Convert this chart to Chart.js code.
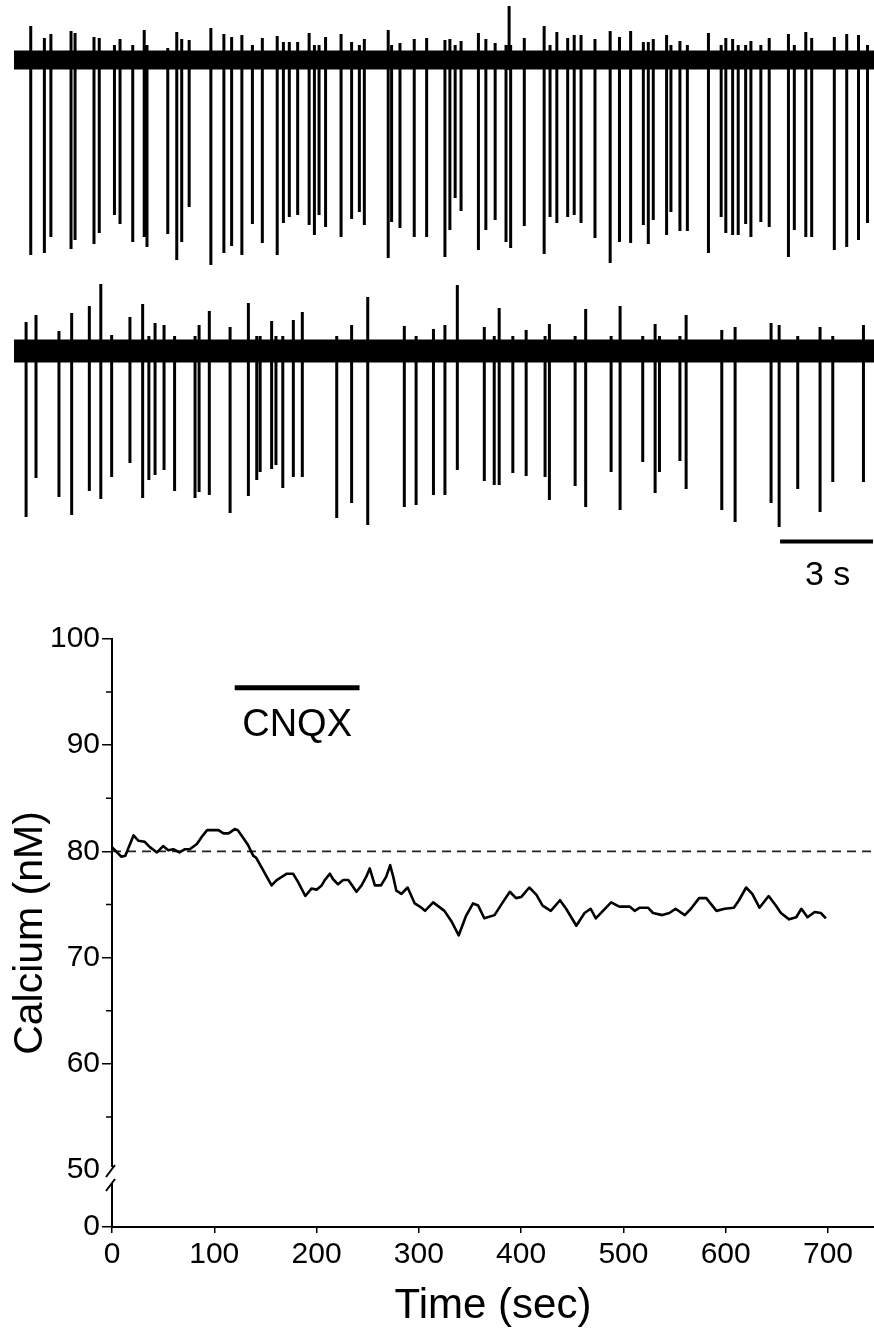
<!DOCTYPE html>
<html>
<head>
<meta charset="utf-8">
<script src="https://cdn.jsdelivr.net/npm/chart.js@4.4.1/dist/chart.umd.min.js"></script>
<style>
  html, body { margin: 0; padding: 0; background: #fff; }
  #wrap { position: relative; width: 874px; height: 1337px; }
  #traces { position: absolute; left: 0; top: 0; }
  #calcium { position: absolute; left: 0; top: 600px; }
</style>
</head>
<body>
<div id="wrap">
  <canvas id="traces" width="874" height="600"></canvas>
  <canvas id="calcium" width="874" height="737"></canvas>
</div>
<script>
// ---- top: two current traces (time in s, amplitude in arbitrary units, baseline = 0)
const traceDuration = 27.74;
const scaleBarSec = 3;

const trace1Times = [0.54, 0.98, 1.19, 1.84, 1.97, 2.58, 2.75, 3.24, 3.42, 3.83,
  4.20, 4.29, 4.96, 5.25, 5.41, 5.65, 6.35, 6.77, 7.02, 7.35,
  7.69, 8.01, 8.49, 8.69, 8.88, 9.15, 9.52, 9.69, 9.84, 10.05,
  10.55, 10.89, 11.14, 11.30, 12.07, 12.18, 12.45, 12.91, 13.31, 13.90,
  14.06, 14.23, 14.42, 14.98, 15.22, 15.52, 15.87, 15.97, 16.02, 16.46,
  17.10, 17.29, 17.51, 17.86, 18.07, 18.29, 18.74, 19.23, 19.53, 19.89,
  20.30, 20.46, 20.62, 21.05, 21.19, 21.48, 21.72, 22.40, 22.81, 22.96,
  23.18, 23.36, 23.60, 23.77, 24.09, 24.36, 24.98, 25.17, 25.54, 25.73,
  26.46, 26.86, 27.24, 27.53];
const trace1Down = [-195, -193, -177, -189, -180, -184, -173, -155, -164, -182,
  -177, -187, -174, -200, -182, -147, -205, -193, -186, -195,
  -164, -183, -195, -163, -157, -155, -165, -175, -155, -167,
  -177, -159, -152, -165, -198, -162, -168, -177, -177, -197,
  -170, -138, -151, -190, -170, -160, -182, -10, -188, -166,
  -194, -157, -163, -157, -155, -163, -178, -203, -182, -183,
  -165, -184, -160, -175, -152, -171, -171, -193, -157, -173,
  -175, -175, -164, -177, -162, -167, -197, -170, -177, -177,
  -190, -187, -180, -163];
const trace1Up = [34, 22, 26, 29, 27, 23, 22, 15, 21, 15,
  30, 15, 12, 28, 21, 20, 32, 26, 23, 25,
  15, 22, 24, 18, 18, 18, 27, 15, 15, 23,
  26, 18, 15, 21, 30, 15, 17, 21, 22, 20,
  21, 15, 19, 27, 21, 17, 15, 54, 15, 22,
  34, 15, 28, 22, 25, 25, 21, 29, 23, 29,
  18, 18, 21, 25, 15, 19, 15, 27, 15, 22,
  21, 15, 15, 19, 15, 22, 26, 15, 28, 22,
  23, 26, 25, 15];

const trace2Times = [0.39, 0.71, 1.45, 1.86, 2.43, 2.80, 3.15, 3.74, 4.15, 4.35,
  4.55, 4.84, 5.18, 5.84, 5.97, 6.30, 6.97, 7.56, 7.83, 7.94,
  8.31, 8.45, 8.67, 9.01, 9.30, 10.41, 10.89, 11.41, 12.59, 12.97,
  13.53, 13.90, 14.30, 15.17, 15.49, 15.65, 16.09, 16.52, 17.13, 17.27,
  18.10, 18.44, 19.26, 19.55, 20.28, 20.68, 20.82, 21.48, 21.68, 22.83,
  23.26, 24.42, 24.68, 25.28, 26.00, 26.41, 27.40];
const trace2Down = [-166, -127, -146, -164, -140, -148, -126, -112, -147, -129,
  -124, -119, -140, -147, -141, -144, -162, -145, -129, -121,
  -118, -114, -137, -126, -126, -167, -152, -174, -156, -154,
  -144, -144, -119, -130, -134, -134, -122, -125, -126, -149,
  -135, -156, -121, -159, -111, -142, -121, -110, -138, -159,
  -171, -152, -176, -138, -161, -131, -131];
const trace2Up = [29, 36, 20, 38, 45, 67, 16, 34, 47, 15,
  28, 26, 15, 15, 26, 40, 24, 48, 15, 15,
  30, 15, 15, 31, 39, 15, 26, 54, 25, 15,
  22, 26, 66, 24, 15, 43, 15, 21, 15, 27,
  15, 42, 15, 45, 15, 27, 15, 15, 36, 21,
  24, 28, 26, 15, 24, 15, 26];

// ---- bottom: calcium vs time
const calciumTime = [0, 9, 13, 21, 26, 32, 37, 44, 50, 55,
  60, 66, 71, 76, 83, 88, 93, 104, 109, 114,
  120, 123, 128, 133, 138, 141, 148, 156, 161, 166,
  171, 177, 182, 189, 195, 200, 205, 208, 213, 216,
  221, 226, 231, 234, 239, 244, 249, 252, 257, 263,
  268, 272, 275, 278, 283, 289, 296, 301, 306, 314,
  325, 332, 339, 346, 353, 358, 364, 374, 382, 389,
  395, 400, 408, 415, 421, 429, 438, 444, 454, 462,
  468, 473, 480, 488, 496, 506, 511, 516, 524, 529,
  538, 545, 551, 560, 566, 574, 581, 591, 599, 608,
  613, 620, 626, 633, 642, 649, 654, 662, 669, 674,
  680, 687, 693, 698];
const calciumNM = [80.4, 79.5, 79.6, 81.5, 81.0, 80.9, 80.4, 79.9, 80.5, 80.1,
  80.2, 79.9, 80.2, 80.2, 80.7, 81.4, 82.0, 82.0, 81.7, 81.7,
  82.1, 82.0, 81.3, 80.6, 79.6, 79.4, 78.2, 76.8, 77.3, 77.6,
  77.9, 77.9, 77.1, 75.8, 76.5, 76.4, 76.8, 77.3, 77.9, 77.4,
  76.9, 77.3, 77.3, 76.9, 76.2, 76.8, 77.7, 78.4, 76.8, 76.8,
  77.6, 78.7, 77.6, 76.3, 76.0, 76.6, 75.1, 74.8, 74.4, 75.2,
  74.4, 73.4, 72.1, 73.9, 75.1, 74.9, 73.7, 74.0, 75.2, 76.2,
  75.6, 75.7, 76.6, 75.9, 74.9, 74.4, 75.4, 74.6, 73.0, 74.2,
  74.6, 73.7, 74.4, 75.2, 74.8, 74.8, 74.4, 74.7, 74.7, 74.2,
  74.0, 74.2, 74.6, 74.0, 74.6, 75.6, 75.6, 74.4, 74.6, 74.7,
  75.4, 76.6, 76.0, 74.7, 75.8, 74.9, 74.2, 73.6, 73.8, 74.6,
  73.8, 74.3, 74.2, 73.7];
const baselineNM = 80;
const cnqxStart = 120;
const cnqxEnd = 242;
const cnqxLevel = 95.4;
const timeTicks = [0, 100, 200, 300, 400, 500, 600, 700];
const calciumTicks = [50, 55, 60, 65, 70, 75, 80, 85, 90, 95, 100];

const FONT = "'Liberation Sans', Arial, Helvetica, sans-serif";

// build a trace: each spike goes baseline -> up -> down -> baseline
function spikePoints(times, up, down) {
  const pts = [{ x: 0, y: 0 }];
  times.forEach((t, i) => {
    pts.push({ x: t, y: 0 }, { x: t, y: up[i] }, { x: t, y: down[i] }, { x: t, y: 0 });
  });
  pts.push({ x: traceDuration, y: 0 });
  return pts;
}

const flat = [{ x: 0, y: 0 }, { x: traceDuration, y: 0 }];
const barStart = traceDuration - scaleBarSec - 0.03;

const scaleBarLabel = {
  id: "scaleBarLabel",
  afterDatasetsDraw(chart) {
    const ctx = chart.ctx;
    const xs = chart.scales.x;
    const cx = xs.getPixelForValue(barStart + scaleBarSec / 2);
    ctx.save();
    ctx.fillStyle = "#000";
    ctx.font = "34px " + FONT;
    ctx.textAlign = "center";
    ctx.textBaseline = "middle";
    ctx.fillText(scaleBarSec + " s", cx + 1, 576);
    ctx.restore();
  },
};

new Chart(document.getElementById("traces"), {
  type: "line",
  data: {
    datasets: [
      { data: flat, yAxisID: "y1", borderColor: "#000", borderWidth: 19, borderCapStyle: "butt" },
      { data: spikePoints(trace1Times, trace1Up, trace1Down), yAxisID: "y1", borderColor: "#000", borderWidth: 3, borderJoinStyle: "bevel" },
      { data: flat, yAxisID: "y2", borderColor: "#000", borderWidth: 23, borderCapStyle: "butt" },
      { data: spikePoints(trace2Times, trace2Up, trace2Down), yAxisID: "y2", borderColor: "#000", borderWidth: 3, borderJoinStyle: "bevel" },
      {
        data: [{ x: barStart, y: -190.5 }, { x: barStart + scaleBarSec, y: -190.5 }],
        yAxisID: "y2", borderColor: "#000", borderWidth: 4, borderCapStyle: "butt",
      },
    ],
  },
  options: {
    responsive: false,
    animation: false,
    events: [],
    layout: { padding: { left: 14, right: 0, top: 0, bottom: 0 } },
    elements: { point: { radius: 0 }, line: { tension: 0 } },
    plugins: { legend: { display: false }, tooltip: { enabled: false } },
    scales: {
      x: { type: "linear", min: 0, max: traceDuration, display: false },
      y1: { type: "linear", min: -540, max: 60, display: false },
      y2: { type: "linear", min: -249, max: 351, display: false },
    },
  },
  plugins: [scaleBarLabel],
});

// ---- bottom chart
const calciumPoints = calciumTime.map((t, i) => ({ x: t, y: calciumNM[i] }));

const calciumDecor = {
  id: "calciumDecor",
  afterDraw(chart) {
    const ctx = chart.ctx;
    const xs = chart.scales.x;
    const ys = chart.scales.y;

    // short minor ticks at the odd fives
    ctx.save();
    ctx.strokeStyle = "#000";
    ctx.lineWidth = 1.5;
    ctx.beginPath();
    calciumTicks.filter((v) => v % 10 !== 0).forEach((v) => {
      const py = ys.getPixelForValue(v);
      ctx.moveTo(ys.right - 6, py);
      ctx.lineTo(ys.right, py);
    });
    ctx.stroke();
    ctx.restore();

    // y axis title
    ctx.save();
    ctx.fillStyle = "#000";
    ctx.font = "41px " + FONT;
    ctx.translate(31, (ys.top + chart.scales.y0.bottom) / 2);
    ctx.rotate(-Math.PI / 2);
    ctx.textAlign = "center";
    ctx.textBaseline = "middle";
    ctx.fillText("Calcium (nM)", 0, 0);
    ctx.restore();

    // drug label under the bar
    ctx.save();
    ctx.fillStyle = "#000";
    ctx.font = "38px " + FONT;
    ctx.textAlign = "center";
    ctx.textBaseline = "alphabetic";
    ctx.fillText("CNQX", xs.getPixelForValue((cnqxStart + cnqxEnd) / 2), ys.getPixelForValue(cnqxLevel) + 48);
    ctx.restore();

    // axis break between 0 and 50
    const ax = ys.right;
    const b = ys.bottom;
    ctx.save();
    ctx.fillStyle = "#fff";
    ctx.fillRect(ax - 12, b - 3, 22, 16);
    ctx.strokeStyle = "#000";
    ctx.lineWidth = 2;
    ctx.beginPath();
    ctx.moveTo(ax - 6, b + 7);
    ctx.lineTo(ax + 3, b - 5);
    ctx.moveTo(ax - 6, b + 21);
    ctx.lineTo(ax + 3, b + 9);
    ctx.stroke();
    ctx.restore();
  },
};

const axisGrid = { display: true, drawOnChartArea: false, drawTicks: true, tickLength: 10, color: "#000", lineWidth: 1.5 };
const axisBorder = { display: true, color: "#000", width: 2 };
const tickFont = { family: FONT, size: 30 };

new Chart(document.getElementById("calcium"), {
  type: "line",
  data: {
    datasets: [
      { data: calciumPoints, yAxisID: "y", borderColor: "#000", borderWidth: 2.6, borderJoinStyle: "round" },
      {
        data: [{ x: 0, y: baselineNM }, { x: 745, y: baselineNM }],
        yAxisID: "y", borderColor: "#222", borderWidth: 1.6, borderDash: [9, 6],
      },
      {
        data: [{ x: cnqxStart, y: cnqxLevel }, { x: cnqxEnd, y: cnqxLevel }],
        yAxisID: "y", borderColor: "#000", borderWidth: 5, borderCapStyle: "butt",
      },
    ],
  },
  options: {
    responsive: false,
    animation: false,
    events: [],
    layout: { padding: { left: 0, right: 0, top: 39, bottom: 0 } },
    elements: { point: { radius: 0 }, line: { tension: 0 } },
    plugins: { legend: { display: false }, tooltip: { enabled: false } },
    scales: {
      x: {
        type: "linear", min: 0, max: 745,
        grid: { ...axisGrid, tickLength: 6 },
        border: axisBorder,
        ticks: { font: tickFont, color: "#000", padding: 4, maxRotation: 0, autoSkip: false },
        afterBuildTicks: (s) => { s.ticks = timeTicks.map((v) => ({ value: v })); },
        afterFit: (s) => { s.height = 110; },
        title: { display: true, text: "Time (sec)", color: "#000", font: { family: FONT, size: 42 }, padding: { top: 0, bottom: 5 } },
      },
      y0: {
        type: "linear", position: "left", stack: "ca", stackWeight: 57,
        min: 0, max: 57 / 10.6,
        grid: axisGrid,
        border: axisBorder,
        ticks: { font: tickFont, color: "#000", padding: 2, autoSkip: false },
        afterBuildTicks: (s) => { s.ticks = [{ value: 0 }]; },
        afterFit: (s) => { s.width = 112; },
      },
      y: {
        type: "linear", position: "left", stack: "ca", stackWeight: 531,
        min: 50, max: 100,
        grid: {
          ...axisGrid,
          tickColor: (c) => (c.tick && c.tick.value % 10 === 0 ? "#000" : "rgba(0,0,0,0)"),
        },
        border: axisBorder,
        ticks: {
          font: tickFont, color: "#000", padding: 2, autoSkip: false,
          callback: (v) => (v % 10 === 0 ? v : ""),
        },
        afterBuildTicks: (s) => { s.ticks = calciumTicks.map((v) => ({ value: v })); },
        afterFit: (s) => { s.width = 112; },
      },
    },
  },
  plugins: [calciumDecor],
});
</script>
</body>
</html>
